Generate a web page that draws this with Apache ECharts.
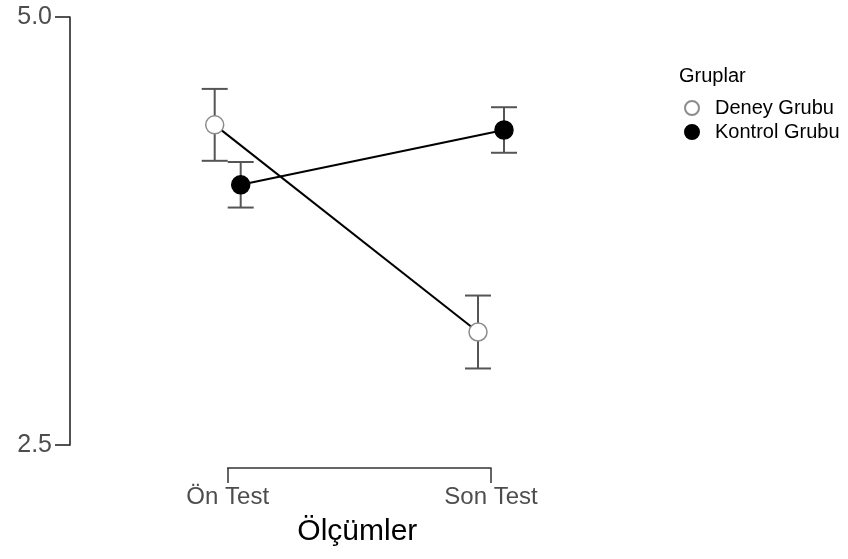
<!DOCTYPE html>
<html>
<head>
<meta charset="utf-8">
<script src="https://cdn.jsdelivr.net/npm/echarts@6/dist/echarts.min.js"></script>
<style>
html,body{margin:0;padding:0;background:#fff;}
#chart{width:848px;height:559px;}
</style>
</head>
<body>
<div id="chart"></div>
<script>
// ---- data ----
var categories = ['Ön Test', 'Son Test'];
var groupNames = ['Deney Grubu', 'Kontrol Grubu'];
var deneyMeans = [4.37, 3.16];
var deneyErr = [0.21, 0.213];
var kontrolMeans = [4.02, 4.34];
var kontrolErr = [0.133, 0.133];
var yTicks = [2.5, 5.0];
var xAxisTitle = 'Ölçümler';
var legendTitle = 'Gruplar';

// ---- layout / styling ----
var FONT = '"Liberation Sans", Arial, sans-serif';
var DODGE = 13;      // px horizontal dodge
var CAP = 13;        // px half width of error bar caps
var axisColor = '#333333';
var labelColor = '#4d4d4d';
var PLOT_LEFT = 70, PLOT_TOP = 17, PLOT_BOTTOM = 445, PLOT_WIDTH = 600;
var CAT_LEFT = 227.7, CAT_RIGHT = 491;
var pxPerUnit = CAT_RIGHT - CAT_LEFT;
var xMin = -(CAT_LEFT - PLOT_LEFT) / pxPerUnit;
var xMax = xMin + PLOT_WIDTH / pxPerUnit;

var chart = echarts.init(document.getElementById('chart'), null, {renderer: 'canvas'});

function makeData(means, errs) {
  return means.map(function (m, i) { return [i, m, errs[i]]; });
}

function lineSeries(name, means, errs, dodge, z) {
  return {
    type: 'custom',
    name: name + ' line',
    xAxisIndex: 0,
    yAxisIndex: 0,
    z: z,
    silent: true,
    data: makeData(means, errs),
    renderItem: function (params, api) {
      var i = params.dataIndex;
      if (i >= means.length - 1) return null;
      var p0 = api.coord([i, means[i]]);
      var p1 = api.coord([i + 1, means[i + 1]]);
      return {
        type: 'line',
        shape: {x1: p0[0] + dodge, y1: p0[1], x2: p1[0] + dodge, y2: p1[1]},
        style: {stroke: '#000', lineWidth: 2}
      };
    }
  };
}

function errSeries(name, means, errs, dodge, z) {
  return {
    type: 'custom',
    name: name + ' err',
    xAxisIndex: 0,
    yAxisIndex: 0,
    z: z,
    silent: true,
    data: makeData(means, errs),
    renderItem: function (params, api) {
      var x = api.value(0), m = api.value(1), e = api.value(2);
      var top = api.coord([x, m + e]);
      var bot = api.coord([x, m - e]);
      var cx = top[0] + dodge;
      var st = {stroke: '#555555', lineWidth: 2};
      return {
        type: 'group',
        children: [
          {type: 'line', shape: {x1: cx, y1: top[1], x2: cx, y2: bot[1]}, style: st},
          {type: 'line', shape: {x1: cx - CAP, y1: top[1], x2: cx + CAP, y2: top[1]}, style: st},
          {type: 'line', shape: {x1: cx - CAP, y1: bot[1], x2: cx + CAP, y2: bot[1]}, style: st}
        ]
      };
    }
  };
}

function pointSeries(name, means, dodge, fill, border, z) {
  return {
    type: 'scatter',
    name: name,
    xAxisIndex: 0,
    yAxisIndex: 0,
    z: z,
    clip: false,
    symbol: 'circle',
    symbolSize: 18,
    symbolOffset: [dodge, 0],
    itemStyle: {color: fill, borderColor: border, borderWidth: 1.5, opacity: 1},
    emphasis: {disabled: true},
    data: means.map(function (m, i) { return [i, m]; })
  };
}

var option = {
  animation: false,
  backgroundColor: '#ffffff',
  textStyle: {fontFamily: FONT},
  title: {
    text: legendTitle,
    left: 679,
    top: 66,
    padding: 0,
    textStyle: {fontFamily: FONT, fontSize: 20, fontWeight: 'normal', color: '#000'}
  },
  legend: {
    data: groupNames,
    orient: 'vertical',
    left: 684,
    top: 98,
    padding: 0,
    itemGap: 4,
    itemWidth: 36,
    itemHeight: 14,
    icon: 'circle',
    selectedMode: false,
    textStyle: {fontFamily: FONT, fontSize: 20, color: '#000'}
  },
  grid: [
    {
      left: PLOT_LEFT,
      width: PLOT_WIDTH,
      top: PLOT_TOP,
      height: PLOT_BOTTOM - PLOT_TOP,
      containLabel: false,
      outerBoundsMode: 'none'
    },
    {
      left: CAT_LEFT,
      width: CAT_RIGHT - CAT_LEFT,
      top: PLOT_TOP,
      height: PLOT_BOTTOM - PLOT_TOP,
      containLabel: false,
      outerBoundsMode: 'none'
    }
  ],
  xAxis: [
    {
      gridIndex: 0,
      type: 'value',
      min: xMin,
      max: xMax,
      show: false,
      axisLine: {onZero: false}
    },
    {
      gridIndex: 1,
      type: 'category',
      data: categories,
      boundaryGap: false,
      position: 'bottom',
      offset: 23,
      axisLine: {show: true, onZero: false, lineStyle: {color: axisColor, width: 1.5}},
      axisTick: {show: true, length: 15, alignWithLabel: true, lineStyle: {color: axisColor, width: 1.5}},
      axisLabel: {show: true, fontFamily: FONT, fontSize: 24, color: labelColor, margin: 17, interval: 0},
      splitLine: {show: false},
      name: xAxisTitle,
      nameLocation: 'middle',
      nameGap: 49,
      nameTextStyle: {fontFamily: FONT, fontSize: 30, color: '#000', padding: [0, 4, 0, 0]}
    }
  ],
  yAxis: [
    {
      gridIndex: 0,
      type: 'value',
      min: yTicks[0],
      max: yTicks[yTicks.length - 1],
      interval: 2.5,
      position: 'left',
      axisLine: {show: true, onZero: false, lineStyle: {color: axisColor, width: 1.7}},
      axisTick: {show: true, length: 15, lineStyle: {color: axisColor, width: 1.7}},
      axisLabel: {
        show: true, fontFamily: FONT, fontSize: 25, color: labelColor, margin: 18,
        padding: [5, 0, 0, 0],
        formatter: function (v) { return v.toFixed(1); }
      },
      splitLine: {show: false}
    },
    {
      gridIndex: 1,
      type: 'value',
      min: yTicks[0],
      max: yTicks[yTicks.length - 1],
      show: false,
      axisLine: {onZero: false}
    }
  ],
  series: [
    lineSeries(groupNames[0], deneyMeans, deneyErr, -DODGE, 1),
    lineSeries(groupNames[1], kontrolMeans, kontrolErr, DODGE, 1),
    errSeries(groupNames[0], deneyMeans, deneyErr, -DODGE, 2),
    errSeries(groupNames[1], kontrolMeans, kontrolErr, DODGE, 2),
    pointSeries(groupNames[0], deneyMeans, -DODGE, '#ffffff', '#8c8c8c', 3),
    pointSeries(groupNames[1], kontrolMeans, DODGE, '#000000', '#000000', 3)
  ]
};

chart.setOption(option);
</script>
</body>
</html>
